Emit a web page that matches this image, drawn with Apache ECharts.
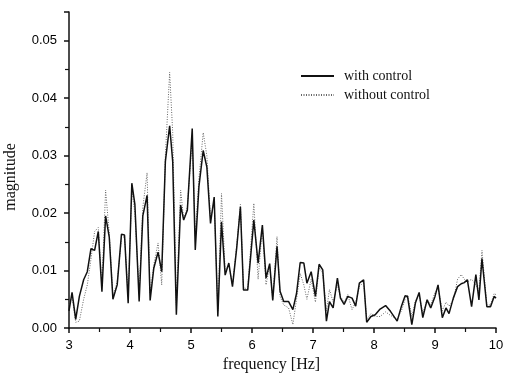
<!DOCTYPE html>
<html lang="en">
<head>
    <meta charset="UTF-8">
    <title>magnitude spectrum</title>
    <script src="https://cdn.jsdelivr.net/npm/echarts@6/dist/echarts.min.js"></script>
    <style>
        html, body { margin: 0; padding: 0; background: #fff; }
        #box { width: 505px; height: 384px; }
    </style>
</head>
<body>
<div id="box"></div>
<script>
    // frequency points (Hz)
    var freq = [3.00, 3.05, 3.11, 3.17, 3.24, 3.30, 3.36, 3.42, 3.48, 3.54, 3.60, 3.66, 3.72, 3.79, 3.86, 3.91, 3.97,
        4.03, 4.08, 4.15, 4.21, 4.28, 4.33, 4.39, 4.46, 4.52, 4.58, 4.65, 4.70, 4.76, 4.83, 4.88, 4.94,
        5.02, 5.07, 5.13, 5.20, 5.26, 5.32, 5.38, 5.44, 5.50, 5.56, 5.62, 5.68, 5.75, 5.81, 5.86, 5.93,
        6.03, 6.10, 6.17, 6.23, 6.29, 6.34, 6.41, 6.46, 6.52, 6.60, 6.67, 6.73, 6.79, 6.85, 6.90, 6.97,
        7.04, 7.10, 7.16, 7.22, 7.27, 7.33, 7.40, 7.45, 7.51, 7.57, 7.64, 7.70, 7.76, 7.83, 7.88, 7.95,
        8.02, 8.10, 8.19, 8.27, 8.38, 8.45, 8.51, 8.55, 8.62, 8.68, 8.74, 8.80, 8.87, 8.93,
        9.00, 9.05, 9.12, 9.18, 9.23, 9.30, 9.37, 9.43, 9.48, 9.53, 9.60, 9.67, 9.72, 9.77, 9.85, 9.91, 9.97, 10.00];

    var withControl = [0.0030, 0.0062, 0.0015, 0.0055, 0.0084, 0.0098, 0.0138, 0.0135, 0.0168, 0.0063, 0.0195, 0.0158, 0.0050, 0.0075, 0.0163, 0.0162, 0.0043,
        0.0252, 0.0215, 0.0046, 0.0195, 0.0231, 0.0048, 0.0104, 0.0132, 0.0098, 0.0290, 0.0352, 0.0290, 0.0023, 0.0214, 0.0188, 0.0205,
        0.0347, 0.0136, 0.0246, 0.0309, 0.0280, 0.0182, 0.0228, 0.0020, 0.0185, 0.0092, 0.0113, 0.0072, 0.0140, 0.0211, 0.0066, 0.0066,
        0.0188, 0.0113, 0.0179, 0.0087, 0.0112, 0.0048, 0.0142, 0.0064, 0.0046, 0.0046, 0.0032, 0.0060, 0.0114, 0.0113, 0.0078, 0.0098,
        0.0055, 0.0111, 0.0101, 0.0012, 0.0046, 0.0035, 0.0087, 0.0052, 0.0041, 0.0055, 0.0052, 0.0038, 0.0078, 0.0084, 0.0010, 0.0020,
        0.0023, 0.0033, 0.0039, 0.0029, 0.0012, 0.0038, 0.0056, 0.0055, 0.0006, 0.0044, 0.0062, 0.0018, 0.0049, 0.0035,
        0.0055, 0.0075, 0.0018, 0.0035, 0.0025, 0.0052, 0.0072, 0.0077, 0.0079, 0.0084, 0.0037, 0.0093, 0.0049, 0.0121, 0.0037, 0.0037, 0.0055, 0.0052];

    var withoutControl = [0.0040, 0.0055, 0.0010, 0.0012, 0.0050, 0.0075, 0.0120, 0.0168, 0.0175, 0.0075, 0.0240, 0.0165, 0.0055, 0.0080, 0.0155, 0.0160, 0.0055,
        0.0240, 0.0200, 0.0060, 0.0210, 0.0270, 0.0060, 0.0110, 0.0148, 0.0075, 0.0300, 0.0445, 0.0340, 0.0040, 0.0240, 0.0190, 0.0210,
        0.0330, 0.0160, 0.0260, 0.0340, 0.0300, 0.0190, 0.0220, 0.0030, 0.0234, 0.0100, 0.0110, 0.0075, 0.0145, 0.0215, 0.0070, 0.0068,
        0.0217, 0.0085, 0.0175, 0.0075, 0.0108, 0.0050, 0.0159, 0.0055, 0.0040, 0.0035, 0.0006, 0.0050, 0.0095, 0.0075, 0.0050, 0.0085,
        0.0045, 0.0105, 0.0095, 0.0030, 0.0067, 0.0045, 0.0075, 0.0055, 0.0045, 0.0058, 0.0032, 0.0045, 0.0072, 0.0080, 0.0015, 0.0025,
        0.0020, 0.0020, 0.0028, 0.0022, 0.0015, 0.0030, 0.0050, 0.0058, 0.0020, 0.0048, 0.0058, 0.0025, 0.0050, 0.0040,
        0.0062, 0.0070, 0.0030, 0.0045, 0.0038, 0.0048, 0.0085, 0.0093, 0.0085, 0.0080, 0.0085, 0.0075, 0.0065, 0.0135, 0.0040, 0.0040, 0.0060, 0.0058];

    function pairs(xs, ys) {
        return xs.map(function (x, i) { return [x, ys[i]]; });
    }

    var chartDom = document.getElementById('box');
    var myChart = echarts.init(chartDom);

    var axisLine = { show: true, onZero: false, lineStyle: { color: '#111', width: 1.5 } };
    var tickFont = { fontFamily: 'Liberation Sans', fontSize: 13, color: '#000' };
    var titleFont = { fontFamily: 'Liberation Serif', fontSize: 16, color: '#111' };

    var option = {
        animation: false,
        grid: { left: 69, right: 9, top: 12, bottom: 56, outerBoundsMode: 'none', containLabel: false },
        legend: {
            orient: 'vertical',
            left: 300,
            top: 69,
            padding: 0,
            itemWidth: 33,
            itemHeight: 10,
            itemGap: 5,
            itemStyle: { opacity: 0, borderWidth: 0 },
            textStyle: { fontFamily: 'Liberation Serif', fontSize: 14, color: '#111', padding: [0, 0, 0, 5] },
            data: ['with control', 'without control']
        },
        xAxis: {
            type: 'value',
            min: 3,
            max: 10,
            interval: 1,
            name: 'frequency [Hz]',
            nameLocation: 'middle',
            nameGap: 27,
            nameTextStyle: Object.assign({ padding: [0, 22, 0, 0] }, titleFont),
            axisLine: axisLine,
            axisTick: { show: true, length: 5, lineStyle: { color: '#111', width: 1.5 } },
            minorTick: { show: true, splitNumber: 2, length: 4, lineStyle: { color: '#111', width: 1.2 } },
            splitLine: { show: false },
            axisLabel: Object.assign({ margin: 11 }, tickFont)
        },
        yAxis: {
            type: 'value',
            min: 0,
            max: 0.055,
            interval: 0.01,
            name: 'magnitude',
            nameLocation: 'middle',
            nameGap: 50,
            nameTextStyle: Object.assign({ padding: [0, 14, 0, 0] }, titleFont),
            axisLine: axisLine,
            axisTick: { show: true, length: 5, lineStyle: { color: '#111', width: 1.5 } },
            minorTick: { show: true, splitNumber: 2, length: 4, lineStyle: { color: '#111', width: 1.2 } },
            splitLine: { show: false },
            axisLabel: Object.assign({
                margin: 12,
                showMaxLabel: false,
                formatter: function (v) { return v.toFixed(2); }
            }, tickFont)
        },
        series: [
            {
                name: 'with control',
                type: 'line',
                symbol: 'none',
                data: pairs(freq, withControl),
                lineStyle: { color: '#111', width: 1.5 },
                itemStyle: { color: '#111' },
                z: 3
            },
            {
                name: 'without control',
                type: 'line',
                symbol: 'none',
                data: pairs(freq, withoutControl),
                lineStyle: { color: '#666', width: 1, type: [1, 1.5] },
                itemStyle: { color: '#666' },
                z: 2
            }
        ]
    };

    option && myChart.setOption(option);
</script>
</body>
</html>
